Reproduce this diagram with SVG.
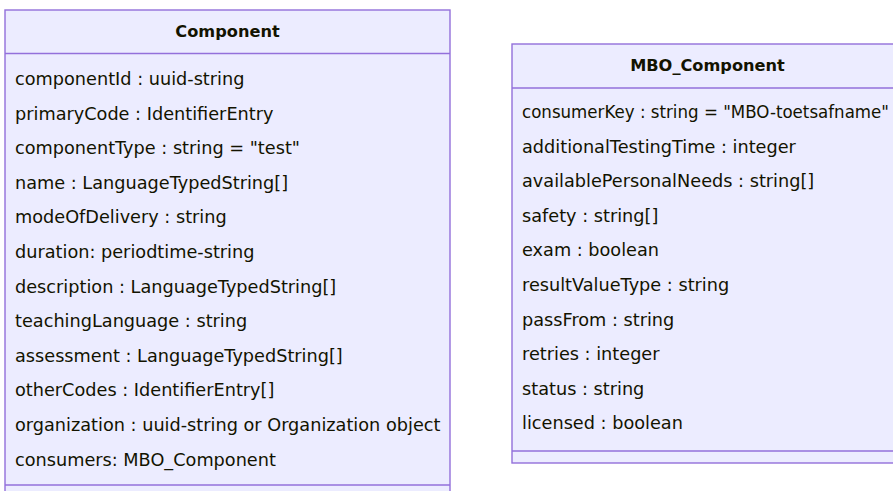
<svg xmlns="http://www.w3.org/2000/svg" width="893" height="491" viewBox="0 0 893 491">
<style>
.box{fill:#ECECFF;stroke:#9370DB;stroke-width:1.4}
.div{stroke:#9370DB;stroke-width:1.4}
.t{font-family:"DejaVu Sans",sans-serif;font-size:17.7px;fill:#131300}
.h{font-family:"DejaVu Sans",sans-serif;font-size:16.2px;font-weight:bold;fill:#131300;text-anchor:middle}
</style>
<rect width="893" height="491" fill="#ffffff"/>
<g id="Component">
<rect class="box" x="5" y="10" width="445" height="487"/>
<line class="div" x1="5" y1="53.5" x2="450" y2="53.5"/>
<line class="div" x1="5" y1="485" x2="450" y2="485"/>
<text class="h" x="227.5" y="37">Component</text>
<text class="t" x="15" y="85">componentId : uuid-string</text>
<text class="t" x="15" y="119.6">primaryCode : IdentifierEntry</text>
<text class="t" x="15" y="154.2">componentType : string = "test"</text>
<text class="t" x="15" y="188.8">name : LanguageTypedString[]</text>
<text class="t" x="15" y="223.4">modeOfDelivery : string</text>
<text class="t" x="15" y="258">duration: periodtime-string</text>
<text class="t" x="15" y="292.6">description : LanguageTypedString[]</text>
<text class="t" x="15" y="327.2">teachingLanguage : string</text>
<text class="t" x="15" y="361.8">assessment : LanguageTypedString[]</text>
<text class="t" x="15" y="396.4">otherCodes : IdentifierEntry[]</text>
<text class="t" x="15" y="431">organization : uuid-string or Organization object</text>
<text class="t" x="15" y="465.6">consumers: MBO_Component</text>
</g>
<g id="MBO_Component">
<rect class="box" x="512" y="44" width="391" height="419"/>
<line class="div" x1="512" y1="88" x2="903" y2="88"/>
<line class="div" x1="512" y1="451" x2="903" y2="451"/>
<text class="h" x="707.5" y="71">MBO_Component</text>
<text class="t" x="522" y="118" textLength="367" lengthAdjust="spacingAndGlyphs">consumerKey : string = "MBO-toetsafname"</text>
<text class="t" x="522" y="152.6">additionalTestingTime : integer</text>
<text class="t" x="522" y="187.2">availablePersonalNeeds : string[]</text>
<text class="t" x="522" y="221.8">safety : string[]</text>
<text class="t" x="522" y="256.4">exam : boolean</text>
<text class="t" x="522" y="291">resultValueType : string</text>
<text class="t" x="522" y="325.6">passFrom : string</text>
<text class="t" x="522" y="360.2">retries : integer</text>
<text class="t" x="522" y="394.8">status : string</text>
<text class="t" x="522" y="429.4">licensed : boolean</text>
</g>
<g id="connectors"></g>
</svg>
